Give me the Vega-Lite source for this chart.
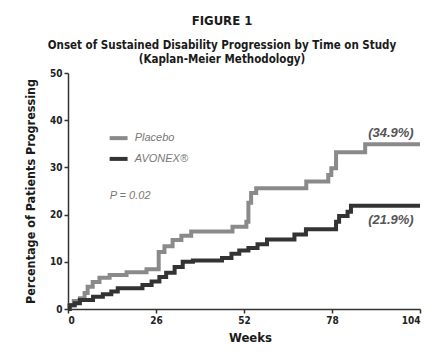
{
  "$schema": "https://vega.github.io/schema/vega-lite/v6.json",
  "width": 352,
  "height": 236,
  "autosize": "none",
  "padding": {"left": 68, "top": 73, "right": 14, "bottom": 55},
  "background": "#ffffff",
  "config": {
    "view": {"stroke": null},
    "font": "DejaVu Sans Condensed"
  },
  "title": {
    "text": "FIGURE 1",
    "subtitle": ["Onset of Sustained Disability Progression by Time on Study", "(Kaplan-Meier Methodology)"],
    "anchor": "middle",
    "frame": "group",
    "dx": -22,
    "offset": 3,
    "font": "DejaVu Sans Condensed",
    "fontSize": 13,
    "fontWeight": "bold",
    "color": "#1a1a1a",
    "subtitleFont": "DejaVu Sans Condensed",
    "subtitleFontSize": 11.5,
    "subtitleFontWeight": "bold",
    "subtitleColor": "#1a1a1a",
    "subtitlePadding": 12,
    "subtitleLineHeight": 14
  },
  "datasets": {
    "curves": [
      {"group": "Placebo", "week": 0, "pct": 0},
      {"group": "Placebo", "week": 0.5, "pct": 0.8},
      {"group": "Placebo", "week": 1.7, "pct": 1.7},
      {"group": "Placebo", "week": 3.5, "pct": 2.3},
      {"group": "Placebo", "week": 4.9, "pct": 3.4},
      {"group": "Placebo", "week": 5.8, "pct": 4.7},
      {"group": "Placebo", "week": 7.3, "pct": 5.7},
      {"group": "Placebo", "week": 9.3, "pct": 6.6},
      {"group": "Placebo", "week": 12.3, "pct": 7.2},
      {"group": "Placebo", "week": 17.3, "pct": 7.8},
      {"group": "Placebo", "week": 23.2, "pct": 8.4},
      {"group": "Placebo", "week": 26.8, "pct": 12.1},
      {"group": "Placebo", "week": 28.5, "pct": 13.3},
      {"group": "Placebo", "week": 30.9, "pct": 14.6},
      {"group": "Placebo", "week": 33.5, "pct": 15.5},
      {"group": "Placebo", "week": 36.4, "pct": 16.4},
      {"group": "Placebo", "week": 48.6, "pct": 17.4},
      {"group": "Placebo", "week": 52.7, "pct": 18.5},
      {"group": "Placebo", "week": 53.3, "pct": 22.5},
      {"group": "Placebo", "week": 54.1, "pct": 24.6},
      {"group": "Placebo", "week": 55.6, "pct": 25.6},
      {"group": "Placebo", "week": 70.4, "pct": 27.0},
      {"group": "Placebo", "week": 76.9, "pct": 28.4},
      {"group": "Placebo", "week": 77.8, "pct": 29.8},
      {"group": "Placebo", "week": 79.2, "pct": 33.2},
      {"group": "Placebo", "week": 87.8, "pct": 34.9},
      {"group": "Placebo", "week": 104, "pct": 34.9},
      {"group": "AVONEX", "week": 0, "pct": 0},
      {"group": "AVONEX", "week": 0.5, "pct": 0.8},
      {"group": "AVONEX", "week": 2, "pct": 1.2},
      {"group": "AVONEX", "week": 3.5, "pct": 1.9},
      {"group": "AVONEX", "week": 7.4, "pct": 2.6},
      {"group": "AVONEX", "week": 10.3, "pct": 3.1},
      {"group": "AVONEX", "week": 12.8, "pct": 3.7},
      {"group": "AVONEX", "week": 14.7, "pct": 4.4},
      {"group": "AVONEX", "week": 22, "pct": 5.1},
      {"group": "AVONEX", "week": 24.7, "pct": 5.8},
      {"group": "AVONEX", "week": 27, "pct": 6.8},
      {"group": "AVONEX", "week": 29, "pct": 7.7},
      {"group": "AVONEX", "week": 31.5, "pct": 8.9},
      {"group": "AVONEX", "week": 33.9, "pct": 10.0},
      {"group": "AVONEX", "week": 36.9, "pct": 10.3},
      {"group": "AVONEX", "week": 45.5, "pct": 10.8},
      {"group": "AVONEX", "week": 48.3, "pct": 11.7},
      {"group": "AVONEX", "week": 50.6, "pct": 12.4},
      {"group": "AVONEX", "week": 53.3, "pct": 12.9},
      {"group": "AVONEX", "week": 56, "pct": 13.7},
      {"group": "AVONEX", "week": 58.8, "pct": 14.7},
      {"group": "AVONEX", "week": 66.9, "pct": 15.8},
      {"group": "AVONEX", "week": 70.3, "pct": 16.9},
      {"group": "AVONEX", "week": 79.2, "pct": 18.5},
      {"group": "AVONEX", "week": 80.1, "pct": 19.7},
      {"group": "AVONEX", "week": 82.6, "pct": 20.6},
      {"group": "AVONEX", "week": 83.6, "pct": 21.9},
      {"group": "AVONEX", "week": 104, "pct": 21.9}
    ],
    "legend": [
      {"group": "Placebo", "label": "Placebo", "x1": 12.3, "x2": 17.6, "tx": 19.7, "y": 36.2},
      {"group": "AVONEX", "label": "AVONEX®", "x1": 12.3, "x2": 17.6, "tx": 19.7, "y": 31.8}
    ],
    "notes": [
      {"label": "(34.9%)", "x": 95.4, "y": 37.3},
      {"label": "(21.9%)", "x": 95.4, "y": 18.9}
    ],
    "pval": [
      {"label": "P = 0.02", "x": 12.3, "y": 23.9}
    ]
  },
  "layer": [
    {
      "data": {"name": "curves"},
      "mark": {"type": "line", "interpolate": "step-after", "strokeWidth": 4, "strokeCap": "butt", "strokeJoin": "miter"},
      "encoding": {
        "x": {
          "field": "week", "type": "quantitative",
          "scale": {"domain": [0, 104], "nice": false, "zero": false},
          "axis": {
            "values": [0, 26, 52, 78, 104],
            "title": "Weeks",
            "grid": false,
            "domainColor": "#333",
            "domainWidth": 1.5,
            "tickColor": "#333",
            "tickWidth": 1.5,
            "tickSize": 4,
            "labelFont": "DejaVu Sans Condensed",
            "labelFontSize": 10,
            "labelFontWeight": "bold",
            "labelColor": "#222",
            "labelPadding": 2,
            "titleFont": "DejaVu Sans Condensed",
            "titleFontSize": 13,
            "titleFontWeight": "bold",
            "titleColor": "#1a1a1a",
            "titlePadding": 6,
            "titleX": 182
          }
        },
        "y": {
          "field": "pct", "type": "quantitative",
          "scale": {"domain": [0, 50], "nice": false},
          "axis": {
            "values": [0, 10, 20, 30, 40, 50],
            "title": "Percentage of Patients Progressing",
            "grid": false,
            "domainColor": "#333",
            "domainWidth": 1.5,
            "tickColor": "#333",
            "tickWidth": 1.5,
            "tickSize": 4,
            "labelFont": "DejaVu Sans Condensed",
            "labelFontSize": 10,
            "labelFontWeight": "bold",
            "labelColor": "#222",
            "labelPadding": 2,
            "titleFont": "DejaVu Sans Condensed",
            "titleFontSize": 12.5,
            "titleFontWeight": "bold",
            "titleColor": "#1a1a1a",
            "titlePadding": 12
          }
        },
        "color": {
          "field": "group", "type": "nominal",
          "scale": {"domain": ["Placebo", "AVONEX"], "range": ["#8a8a8a", "#333333"]},
          "legend": null
        },
        "detail": {"field": "group"}
      }
    },
    {
      "data": {"name": "legend"},
      "mark": {"type": "rule", "strokeWidth": 4},
      "encoding": {
        "x": {"field": "x1", "type": "quantitative"},
        "x2": {"field": "x2"},
        "y": {"field": "y", "type": "quantitative"},
        "color": {"field": "group", "type": "nominal", "legend": null}
      }
    },
    {
      "data": {"name": "legend"},
      "mark": {"type": "text", "align": "left", "baseline": "middle", "fontStyle": "italic", "fontSize": 11, "font": "Liberation Sans", "color": "#777777"},
      "encoding": {
        "x": {"field": "tx", "type": "quantitative"},
        "y": {"field": "y", "type": "quantitative"},
        "text": {"field": "label"}
      }
    },
    {
      "data": {"name": "pval"},
      "mark": {"type": "text", "align": "left", "baseline": "middle", "fontStyle": "italic", "fontSize": 11, "font": "Liberation Sans", "color": "#777777"},
      "encoding": {
        "x": {"field": "x", "type": "quantitative"},
        "y": {"field": "y", "type": "quantitative"},
        "text": {"field": "label"}
      }
    },
    {
      "data": {"name": "notes"},
      "mark": {"type": "text", "align": "center", "baseline": "middle", "fontStyle": "italic", "fontWeight": "bold", "fontSize": 13, "font": "Liberation Sans", "color": "#555555"},
      "encoding": {
        "x": {"field": "x", "type": "quantitative"},
        "y": {"field": "y", "type": "quantitative"},
        "text": {"field": "label"}
      }
    }
  ]
}
